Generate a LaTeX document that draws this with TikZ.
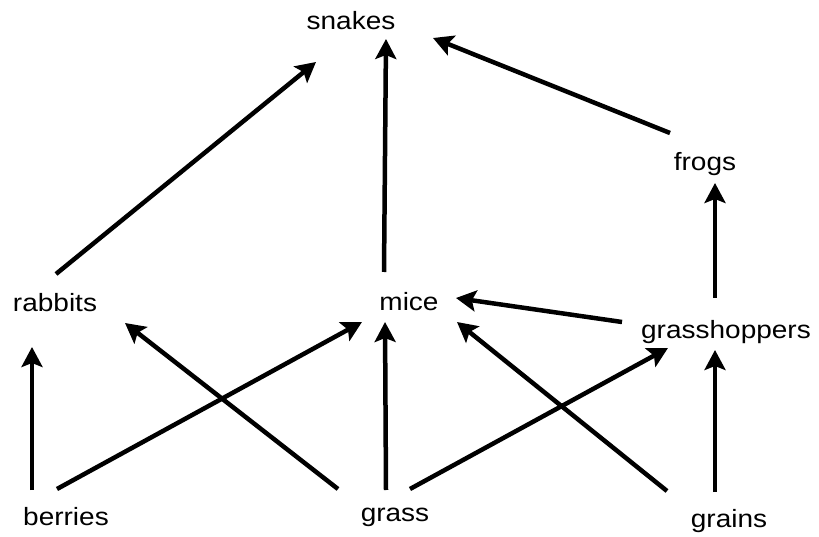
\documentclass[tikz,border=0pt]{standalone}
\usepackage{fontspec}
\setmainfont{Liberation Sans}
\usetikzlibrary{arrows.meta, positioning}

\begin{document}
\begin{tikzpicture}[
      x=1pt, y=-1pt,
      every node/.style={font=\fontsize{25}{30}\selectfont, xscale=1.12, inner sep=0pt},
      eats/.style={draw, line width=4.5pt, -{Stealth[length=20pt, width=21pt, inset=4pt]}}
    ]
      \useasboundingbox (0,0) rectangle (819,537);
      % who eats whom
      \node (snakes) at (351,21) {snakes};
      \node (frogs) at (705,164) {frogs};
      \node (rabbits) at (55,303) {rabbits};
      \node (mice) at (409,302) {mice};
      \node (hoppers) at (726,332) {grasshoppers};
      \node (berries) at (66,517) {berries};
      \node (grass) at (395,517) {grass};
      \node (grains) at (729,521) {grains};

      \draw[eats] ([shift={(1,-29)}]rabbits.center) -- ([shift={(-35,41)}]snakes.center);
      \draw[eats] ([shift={(-25,-30)}]mice.center) -- ([shift={(35,18)}]snakes.center);
      \draw[eats] ([shift={(-35,-31)}]frogs.center) -- ([shift={(82,17)}]snakes.center);
      \draw[eats] ([shift={(-11,-34)}]hoppers.center) -- ([shift={(10,19)}]frogs.center);
      \draw[eats] ([shift={(-104,-10)}]hoppers.center) -- ([shift={(47,-4)}]mice.center);

      \draw[eats] ([shift={(-34,-27)}]berries.center) -- ([shift={(-23,44)}]rabbits.center);
      \draw[eats] ([shift={(-9,-28)}]berries.center) -- ([shift={(-47,20)}]mice.center);
      \draw[eats] ([shift={(-57,-28)}]grass.center) -- ([shift={(70,20)}]rabbits.center);
      \draw[eats] ([shift={(-9,-27)}]grass.center) -- ([shift={(-24,20)}]mice.center);
      \draw[eats] ([shift={(15,-28)}]grass.center) -- ([shift={(-58,16)}]hoppers.center);
      \draw[eats] ([shift={(-62,-30)}]grains.center) -- ([shift={(48,20)}]mice.center);
      \draw[eats] ([shift={(-14,-29)}]grains.center) -- ([shift={(-11,18)}]hoppers.center);
\end{tikzpicture}
\end{document}
